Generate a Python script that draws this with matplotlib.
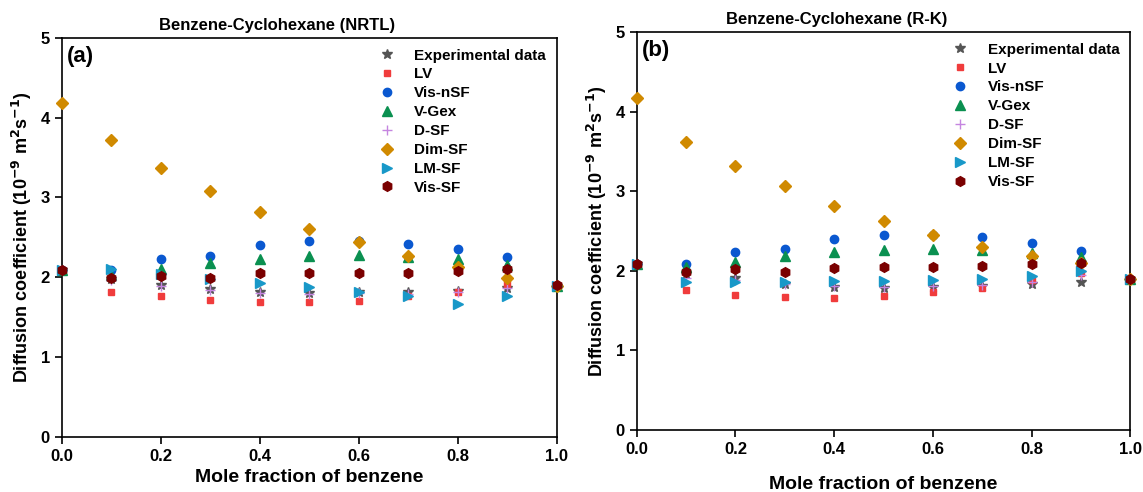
import numpy as np
import matplotlib
matplotlib.use('Agg')
import matplotlib.pyplot as plt

plt.rcParams['font.family'] = 'Liberation Sans'
plt.rcParams['font.weight'] = 'bold'

# mole fraction of benzene
x = [0.0, 0.1, 0.2, 0.3, 0.4, 0.5, 0.6, 0.7, 0.8, 0.9, 1.0]

# panel (a) NRTL
a_exp = [2.09, 1.98, 1.90, 1.85, 1.81, 1.80, 1.81, 1.81, 1.83, 1.86, 1.89]
a_lv = [2.09, 1.81, 1.77, 1.72, 1.69, 1.69, 1.70, 1.76, 1.82, 1.92, 1.89]
a_visn = [2.09, 2.09, 2.23, 2.27, 2.41, 2.45, 2.46, 2.42, 2.35, 2.25, 1.89]
a_vgex = [2.09, 2.03, 2.11, 2.18, 2.23, 2.27, 2.28, 2.26, 2.23, 2.16, 1.89]
a_dsf = [2.09, 1.97, 1.89, 1.84, 1.80, 1.79, 1.80, 1.79, 1.82, 1.87, 1.89]
a_dim = [4.18, 3.72, 3.37, 3.08, 2.82, 2.61, 2.44, 2.27, 2.13, 1.99, 1.89]
a_lm = [2.09, 2.11, 2.04, 1.98, 1.93, 1.88, 1.82, 1.76, 1.67, 1.77, 1.89]
a_vis = [2.09, 1.99, 2.02, 1.99, 2.05, 2.05, 2.05, 2.06, 2.08, 2.10, 1.90]

# panel (b) R-K
b_exp = [2.09, 1.96, 1.91, 1.84, 1.80, 1.79, 1.80, 1.81, 1.83, 1.86, 1.90]
b_lv = [2.09, 1.76, 1.70, 1.67, 1.66, 1.68, 1.73, 1.79, 1.88, 1.97, 1.90]
b_visn = [2.09, 2.09, 2.23, 2.27, 2.40, 2.45, 2.45, 2.42, 2.35, 2.25, 1.90]
b_vgex = [2.09, 2.05, 2.11, 2.18, 2.23, 2.26, 2.27, 2.26, 2.22, 2.17, 1.90]
b_dsf = [2.09, 1.91, 1.88, 1.84, 1.81, 1.80, 1.81, 1.82, 1.86, 1.95, 1.90]
b_dim = [4.17, 3.62, 3.32, 3.06, 2.82, 2.62, 2.45, 2.30, 2.19, 2.10, 1.90]
b_lm = [2.09, 1.86, 1.86, 1.86, 1.87, 1.87, 1.88, 1.90, 1.94, 2.00, 1.90]
b_vis = [2.09, 1.98, 2.02, 1.98, 2.04, 2.05, 2.05, 2.06, 2.08, 2.10, 1.90]

labels = ['Experimental data', 'LV', 'Vis-nSF', 'V-Gex', 'D-SF', 'Dim-SF', 'LM-SF', 'Vis-SF']
styles = [('*', '#555555', 7), ('s', '#f03c3c', 5), ('o', '#0a58d0', 6), ('^', '#0a9050', 7),
          ('+', '#c585e0', 7), ('D', '#d08a00', 6), ('>', '#1898c8', 7), ('h', '#7a0000', 7)]

fig = plt.figure(figsize=(11.43, 4.92), dpi=100)
ax1 = fig.add_axes([0.054, 0.112, 0.433, 0.811])
ax2 = fig.add_axes([0.557, 0.126, 0.432, 0.809])

panels = [(ax1, [a_exp, a_lv, a_visn, a_vgex, a_dsf, a_dim, a_lm, a_vis], 'Benzene-Cyclohexane (NRTL)', '(a)', 0.436, 4),
          (ax2, [b_exp, b_lv, b_visn, b_vgex, b_dsf, b_dim, b_lm, b_vis], 'Benzene-Cyclohexane (R-K)', '(b)', 0.406, 14)]

for ax, series, title, tag, tx, xpad in panels:
    for ys, lab, (m, c, s) in zip(series, labels, styles):
        ax.plot(x, ys, linestyle='none', marker=m, color=c, markersize=s, label=lab,
                clip_on=False, zorder=3)
    ax.set_xlim(0, 1)
    ax.set_ylim(0, 5)
    ax.set_xticks([0.0, 0.2, 0.4, 0.6, 0.8, 1.0])
    ax.set_yticks([0, 1, 2, 3, 4, 5])
    ax.tick_params(direction='out', length=5, width=1.2, labelsize=12)
    for sp in ax.spines.values():
        sp.set_linewidth(1.2)
    ax.set_title(title, fontsize=12, fontweight='bold', pad=6, x=tx)
    ax.set_xlabel('Mole fraction of benzene', fontsize=14, fontweight='bold', labelpad=xpad)
    ax.set_ylabel('Diffusion coefficient (10$^{-9}$ m$^{2}$s$^{-1}$)', fontsize=13, fontweight='bold',
                  labelpad=5)
    ax.text(0.01, 0.98, tag, transform=ax.transAxes, fontsize=16, fontweight='bold',
            va='top', ha='left')
    ax.legend(loc='upper right', frameon=False, fontsize=11, handletextpad=0.8,
              labelspacing=0.32, borderaxespad=0.3)

fig.savefig('out.png', dpi=100)
